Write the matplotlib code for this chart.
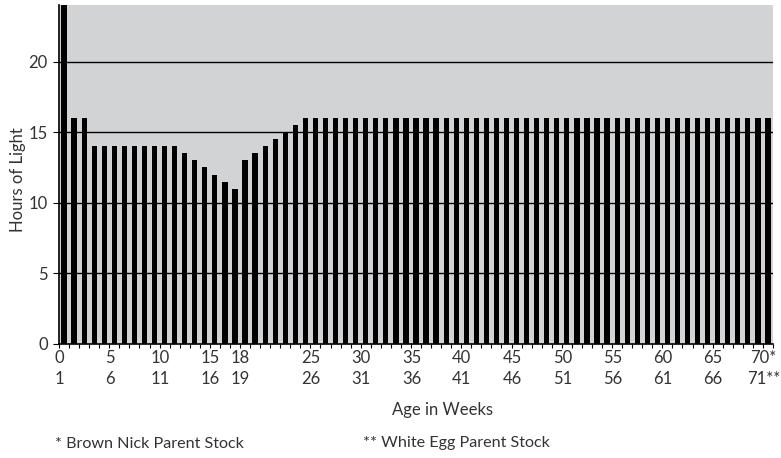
import matplotlib
matplotlib.use('Agg')
import matplotlib.pyplot as plt
import numpy as np

plt.rcParams['font.family'] = ['Lato', 'DejaVu Sans']

# horas de luz por semana (0 a 70)
semanas = list(range(0, 71))
horas = ([24, 16, 16] + [14] * 9 +
         [13.5, 13, 12.5, 12, 11.5, 11, 13, 13.5, 14, 14.5, 15, 15.5] +
         [16] * 47)

# etiquetas del eje x (dos filas)
pos_etiq = [0, 5, 10, 15, 18, 25, 30, 35, 40, 45, 50, 55, 60, 65, 70]
fila1 = ['0', '5', '10', '15', '18', '25', '30', '35', '40', '45',
         '50', '55', '60', '65', '70*']
fila2 = ['1', '6', '11', '16', '19', '26', '31', '36', '41', '46',
         '51', '56', '61', '66', '71**']

gris = '#d2d3d5'
texto = '#333333'

fig = plt.figure(figsize=(7.81, 4.58), dpi=100)
ax = fig.add_axes([59/781, 1-344/458, (773-59)/781, (344-5)/458])
ax.set_facecolor(gris)

ax.bar(semanas, horas, width=0.52, color='black', zorder=3)

ax.set_xlim(-0.45, 70.45)
ax.set_ylim(0, 24)
ax.set_yticks([0, 5, 10, 15, 20])
for y in [5, 10, 15, 20]:
    ax.axhline(y, color='black', lw=1, zorder=1)

# ticks del eje x entre barras
ax.set_xticks(np.arange(-0.5, 71, 1), minor=True)
ax.tick_params(axis='x', which='minor', length=3, width=0.8, direction='out')
ax.set_xticks([p - 0.45 for p in pos_etiq])
ax.set_xticklabels([a + '\n' + b for a, b in zip(fila1, fila2)],
                   fontsize=12, color=texto, linespacing=1.45)
ax.tick_params(axis='x', which='major', length=0, pad=4)
ax.tick_params(axis='y', length=4, width=0.8, labelsize=12, labelcolor=texto, pad=4)

for s in ['top', 'right']:
    ax.spines[s].set_visible(False)
ax.spines['left'].set_linewidth(1.2)
ax.spines['bottom'].set_linewidth(1.2)

fig.text(18/781, 1-180/458, 'Hours of Light', rotation=90, ha='center', va='center',
         fontsize=12, color=texto)
fig.text(443/781, 1-410/458, 'Age in Weeks', ha='center', va='center',
         fontsize=12, color=texto)
fig.text(55/781, 1-444/458, '* Brown Nick Parent Stock', ha='left', va='center',
         fontsize=11.6, color=texto)
fig.text(363/781, 1-443/458, '** White Egg Parent Stock', ha='left', va='center',
         fontsize=11.6, color=texto)

plt.savefig('out.png', dpi=100)
